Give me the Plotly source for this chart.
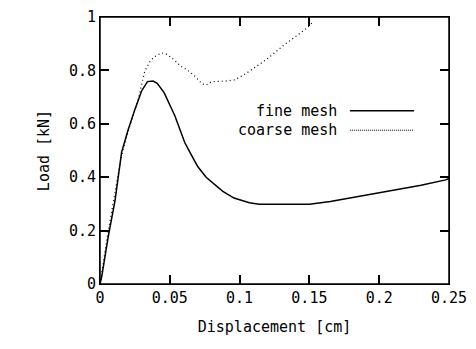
import plotly.graph_objects as go

# fine mesh (solid)
fine_x = [0.0, 0.0012, 0.006, 0.0107, 0.0155, 0.0200, 0.0250, 0.0298, 0.0340, 0.0380, 0.0410,
          0.0460, 0.0536, 0.0607, 0.0655, 0.0700, 0.0760, 0.0810, 0.0880, 0.0960, 0.1070,
          0.1140, 0.1300, 0.1500, 0.1650, 0.1790, 0.1950, 0.2140, 0.2300, 0.2476, 0.2500]
fine_y = [0.0, 0.027, 0.18, 0.31, 0.494, 0.575, 0.654, 0.723, 0.758, 0.760, 0.752,
          0.716, 0.630, 0.530, 0.483, 0.440, 0.400, 0.378, 0.347, 0.322, 0.304,
          0.299, 0.299, 0.299, 0.309, 0.322, 0.336, 0.354, 0.370, 0.390, 0.395]

# coarse mesh (dotted)
coarse_x = [0.0, 0.005, 0.010, 0.015, 0.020, 0.0274, 0.032, 0.036, 0.039, 0.044, 0.048,
            0.053, 0.058, 0.063, 0.068, 0.073, 0.076, 0.080, 0.090, 0.097, 0.105,
            0.112, 0.119, 0.126, 0.133, 0.141, 0.149, 0.153]
coarse_y = [0.0, 0.17, 0.32, 0.47, 0.57, 0.691, 0.796, 0.835, 0.851, 0.866, 0.860,
            0.840, 0.815, 0.800, 0.778, 0.750, 0.745, 0.758, 0.760, 0.765, 0.790,
            0.815, 0.840, 0.870, 0.900, 0.930, 0.962, 0.985]

x_ticks = [0, 0.05, 0.1, 0.15, 0.2, 0.25]
y_ticks = [0, 0.2, 0.4, 0.6, 0.8, 1.0]
series_names = ["fine mesh", "coarse mesh"]

FONT = "DejaVu Sans Mono"
FS = 15

fig = go.Figure()
fig.add_trace(go.Scatter(x=fine_x, y=fine_y, mode="lines", name=series_names[0],
                         line=dict(color="black", width=1.5), showlegend=False))
fig.add_trace(go.Scatter(x=coarse_x, y=coarse_y, mode="lines", name=series_names[1],
                         line=dict(color="black", width=1.2, dash="1px,3px"), showlegend=False))

fig.update_xaxes(range=[x_ticks[0], x_ticks[-1]], tick0=x_ticks[0], dtick=x_ticks[1] - x_ticks[0],
                 showline=True, linecolor="black", mirror="allticks",
                 ticks="inside", ticklen=9, tickcolor="black", tickwidth=2,
                 tickfont=dict(family=FONT, size=FS, color="black"),
                 title=dict(text="Displacement [cm]", font=dict(family=FONT, size=FS, color="black")))
fig.update_yaxes(range=[y_ticks[0], y_ticks[-1]], tick0=y_ticks[0], dtick=y_ticks[1] - y_ticks[0],
                 showline=True, linecolor="black", mirror="allticks",
                 ticks="inside", ticklen=9, tickcolor="black", tickwidth=2,
                 tickfont=dict(family=FONT, size=FS, color="black"),
                 title=dict(text="Load [kN]", font=dict(family=FONT, size=FS, color="black")))

# plot frame
fig.add_shape(type="rect", xref="paper", yref="paper", x0=0, x1=1, y0=0, y1=1,
              line=dict(color="black", width=1.5), fillcolor="rgba(0,0,0,0)", opacity=1,
              layer="above")

# manual legend (text right aligned, sample on the right)
leg_y = [0.649, 0.576]
dashes = ["solid", "1px,1px"]
widths = [1.5, 1]
for name, yy, d, w in zip(series_names, leg_y, dashes, widths):
    fig.add_annotation(x=0.685, y=yy, xref="paper", yref="paper", text=name,
                       showarrow=False, xanchor="right", yanchor="middle",
                       font=dict(family=FONT, size=FS, color="black"))
    fig.add_shape(type="line", xref="paper", yref="paper", x0=0.716, x1=0.90, y0=yy, y1=yy,
                  line=dict(color="black", width=w, dash=d), opacity=1)

fig.update_layout(template="simple_white", width=468, height=341,
                  margin=dict(l=92, r=27, t=9, b=65, autoexpand=False),
                  showlegend=False)

fig.write_html("out.html")
